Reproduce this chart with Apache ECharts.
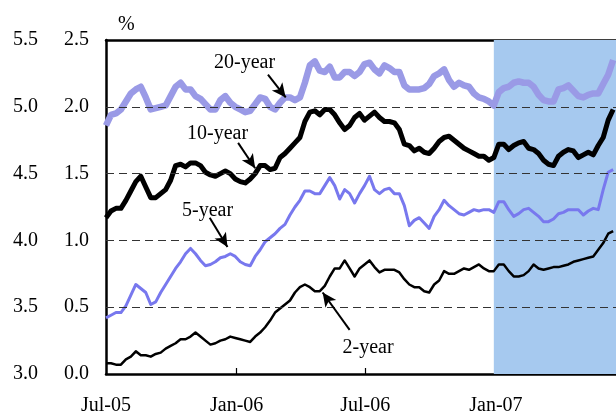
<!DOCTYPE html>
<html>
<head>
<meta charset="utf-8">
<script src="https://cdn.jsdelivr.net/npm/echarts@6/dist/echarts.min.js"></script>
<style>
  html, body { margin: 0; padding: 0; background: #fff; }
  #chart { width: 616px; height: 414px; }
</style>
</head>
<body>
<div id="chart"></div>
<script>
// Weekly observation dates (Fridays)
const weeks = [
  '2005-07-01','2005-07-08','2005-07-15','2005-07-22','2005-07-29',
  '2005-08-05','2005-08-12','2005-08-19','2005-08-26',
  '2005-09-02','2005-09-09','2005-09-16','2005-09-23','2005-09-30',
  '2005-10-07','2005-10-14','2005-10-21','2005-10-28',
  '2005-11-04','2005-11-11','2005-11-18','2005-11-25',
  '2005-12-02','2005-12-09','2005-12-16','2005-12-23','2005-12-30',
  '2006-01-06','2006-01-13','2006-01-20','2006-01-27',
  '2006-02-03','2006-02-10','2006-02-17','2006-02-24',
  '2006-03-03','2006-03-10','2006-03-17','2006-03-24','2006-03-31',
  '2006-04-07','2006-04-14','2006-04-21','2006-04-28',
  '2006-05-05','2006-05-12','2006-05-19','2006-05-26',
  '2006-06-02','2006-06-09','2006-06-16','2006-06-23','2006-06-30',
  '2006-07-07','2006-07-14','2006-07-21','2006-07-28',
  '2006-08-04','2006-08-11','2006-08-18','2006-08-25',
  '2006-09-01','2006-09-08','2006-09-15','2006-09-22','2006-09-29',
  '2006-10-06','2006-10-13','2006-10-20','2006-10-27',
  '2006-11-03','2006-11-10','2006-11-17','2006-11-24',
  '2006-12-01','2006-12-08','2006-12-15','2006-12-22','2006-12-29',
  '2007-01-05','2007-01-12','2007-01-19','2007-01-26',
  '2007-02-02','2007-02-09','2007-02-16','2007-02-23',
  '2007-03-02','2007-03-09','2007-03-16','2007-03-23','2007-03-30',
  '2007-04-06','2007-04-13','2007-04-20','2007-04-27',
  '2007-05-04','2007-05-11','2007-05-18','2007-05-25',
  '2007-06-01','2007-06-08','2007-06-15'
];

// Yields, %
const yield20 = [
  1.86,1.94,1.95,1.98,2.04,2.10,2.13,2.15,2.07,1.98,
  1.99,2.00,2.01,2.08,2.15,2.18,2.13,2.13,2.08,2.06,
  2.02,1.98,1.98,2.05,2.08,2.03,2.00,1.98,1.96,1.97,
  2.02,2.07,2.06,2.00,1.98,2.03,2.07,2.07,2.05,2.07,
  2.18,2.31,2.34,2.27,2.26,2.30,2.22,2.22,2.26,2.26,
  2.23,2.26,2.32,2.33,2.28,2.25,2.31,2.29,2.26,2.26,
  2.16,2.13,2.13,2.13,2.14,2.17,2.23,2.25,2.28,2.20,
  2.15,2.18,2.16,2.15,2.10,2.07,2.06,2.04,2.01,2.11,
  2.14,2.15,2.18,2.19,2.18,2.18,2.15,2.09,2.05,2.04,
  2.04,2.13,2.14,2.16,2.12,2.08,2.07,2.09,2.10,2.10,
  2.17,2.24,2.35
];
const yield10 = [
  1.17,1.22,1.24,1.24,1.30,1.37,1.44,1.48,1.40,1.32,
  1.32,1.35,1.38,1.45,1.56,1.57,1.55,1.58,1.58,1.56,
  1.51,1.49,1.48,1.50,1.52,1.50,1.46,1.44,1.43,1.46,
  1.50,1.56,1.56,1.53,1.54,1.62,1.65,1.69,1.73,1.77,
  1.89,1.96,1.97,1.94,1.98,1.98,1.94,1.88,1.83,1.86,
  1.92,1.95,1.90,1.93,1.96,1.92,1.89,1.89,1.88,1.83,
  1.72,1.71,1.67,1.69,1.66,1.65,1.69,1.74,1.77,1.78,
  1.75,1.72,1.69,1.67,1.65,1.63,1.63,1.60,1.62,1.72,
  1.72,1.68,1.71,1.73,1.74,1.69,1.68,1.65,1.60,1.57,
  1.56,1.63,1.66,1.68,1.67,1.62,1.64,1.66,1.64,1.71,
  1.77,1.90,1.98
];
const yield5 = [
  0.42,0.44,0.46,0.46,0.51,0.59,0.67,0.64,0.61,0.52,
  0.54,0.61,0.67,0.73,0.79,0.84,0.90,0.94,0.90,0.85,
  0.81,0.82,0.84,0.87,0.88,0.90,0.88,0.84,0.82,0.81,
  0.88,0.93,0.99,1.02,1.05,1.09,1.12,1.19,1.25,1.30,
  1.37,1.37,1.35,1.35,1.41,1.47,1.41,1.31,1.38,1.35,
  1.28,1.35,1.41,1.48,1.38,1.35,1.38,1.39,1.35,1.35,
  1.26,1.11,1.15,1.17,1.13,1.09,1.18,1.23,1.30,1.26,
  1.23,1.20,1.19,1.21,1.23,1.22,1.23,1.23,1.21,1.29,
  1.29,1.23,1.18,1.20,1.23,1.24,1.21,1.18,1.14,1.14,
  1.16,1.20,1.21,1.23,1.23,1.23,1.19,1.22,1.24,1.23,
  1.38,1.51,1.53
];
const yield2 = [
  0.08,0.08,0.07,0.07,0.11,0.13,0.17,0.14,0.14,0.13,
  0.15,0.16,0.19,0.21,0.23,0.26,0.26,0.28,0.31,0.28,
  0.25,0.22,0.23,0.25,0.26,0.28,0.27,0.26,0.25,0.24,
  0.28,0.31,0.35,0.40,0.46,0.49,0.52,0.55,0.61,0.65,
  0.67,0.65,0.62,0.62,0.66,0.73,0.79,0.79,0.85,0.79,
  0.73,0.79,0.82,0.85,0.80,0.76,0.78,0.78,0.78,0.76,
  0.71,0.67,0.65,0.65,0.62,0.61,0.67,0.70,0.77,0.75,
  0.75,0.77,0.79,0.78,0.80,0.82,0.79,0.77,0.77,0.82,
  0.82,0.77,0.73,0.73,0.74,0.77,0.82,0.79,0.78,0.79,
  0.80,0.80,0.81,0.82,0.84,0.85,0.86,0.87,0.88,0.93,
  0.98,1.05,1.07
];

// Axis ticks
const xTickDates  = ['2005-07-01','2006-01-01','2006-07-01','2007-01-01'];
const xTickLabels = ['Jul-05','Jan-06','Jul-06','Jan-07'];
const xStart = '2005-07-01';
const xEnd   = '2007-06-19';
const gridLevels = [0.5, 1.0, 1.5, 2.0];

// Shaded period
const shadeFrom = '2006-12-29';
const shadeTo   = '2007-06-19';

// Series labels with pointer arrows (data coordinates)
const notes = [
  { text: '20-year', at: ['2006-01-12', 2.33], from: ['2006-02-14', 2.24], to: ['2006-03-11', 2.07] },
  { text: '10-year', at: ['2005-12-05', 1.80], from: ['2006-01-03', 1.73], to: ['2006-01-27', 1.54] },
  { text: '5-year',  at: ['2005-11-21', 1.22], from: ['2005-11-24', 1.17], to: ['2005-12-19', 0.95] },
  { text: '2-year',  at: ['2006-07-05', 0.20], from: ['2006-06-09', 0.33], to: ['2006-05-02', 0.61] }
];

// Dates are placed on a day-count axis measured from the first date
const DAY = 86400000;
const dayOf = s => Math.round((Date.parse(s + 'T00:00:00Z') - Date.parse(xStart + 'T00:00:00Z')) / DAY);
const serif = '"Liberation Serif", "Times New Roman", Times, serif';
const pair = vals => weeks.map((d, i) => [dayOf(d), vals[i]]);
const tickDays = xTickDates.map(dayOf);

const chart = echarts.init(document.getElementById('chart'), null, { renderer: 'canvas' });

const lineSeries = (name, vals, color, width, z) => ({
  name, type: 'line', data: pair(vals), showSymbol: false, symbol: 'none',
  lineStyle: { color, width, join: 'round' }, z, silent: true
});

const option = {
  animation: false,
  backgroundColor: '#fff',
  grid: { left: 106, top: 40, right: 0, bottom: 40, containLabel: false, outerBoundsMode: 'none' },
  xAxis: [
    {
      type: 'value', min: 0, max: dayOf(xEnd),
      axisLine: { show: true, lineStyle: { color: '#000', width: 2.5 } },
      axisTick: { show: true, inside: true, length: 6, lineStyle: { color: '#000', width: 1.2 },
                  customValues: tickDays.slice(1) },
      axisLabel: {
        customValues: tickDays,
        formatter: v => xTickLabels[tickDays.indexOf(Math.round(v))] || '',
        margin: 22, color: '#000', fontFamily: serif, fontSize: 20
      },
      splitLine: { show: false }
    },
    {
      type: 'value', position: 'top', min: 0, max: dayOf(xEnd),
      axisLine: { show: true, lineStyle: { color: '#000', width: 2.5 } },
      axisTick: { show: false }, axisLabel: { show: false }, splitLine: { show: false }
    }
  ],
  yAxis: [
    {
      type: 'value', min: 0, max: 2.5, interval: 0.5, position: 'left',
      name: '%', nameLocation: 'end', nameGap: 5,
      nameTextStyle: { color: '#000', fontFamily: serif, fontSize: 20, align: 'left', padding: [0, 0, 0, 12] },
      axisLine: { show: true, lineStyle: { color: '#000', width: 2.5 } },
      axisTick: { show: false },
      axisLabel: { formatter: v => v.toFixed(1), margin: 17, color: '#000', fontFamily: serif, fontSize: 20 },
      splitLine: { show: false }
    },
    {
      type: 'value', min: 3, max: 5.5, interval: 0.5, position: 'left', offset: 51,
      axisLine: { show: false }, axisTick: { show: false },
      axisLabel: { formatter: v => v.toFixed(1), margin: 17, color: '#000', fontFamily: serif, fontSize: 20 },
      splitLine: { show: false }
    }
  ],
  series: [
    {
      name: 'shade', type: 'line', data: [], z: 1, silent: true,
      markArea: {
        silent: true,
        itemStyle: { color: '#a6c9ef' },
        data: [[{ xAxis: dayOf(shadeFrom) }, { xAxis: dayOf(shadeTo) }]]
      }
    },
    {
      name: 'grid', type: 'line', data: [], z: 2, silent: true,
      markLine: {
        silent: true, symbol: 'none', label: { show: false },
        lineStyle: { color: '#333', width: 1.2, type: [8, 5] },
        data: gridLevels.map(v => ({ yAxis: v }))
      }
    },
    lineSeries('2-year', yield2, '#000', 2.5, 3),
    lineSeries('5-year', yield5, '#7878ee', 3, 3),
    lineSeries('10-year', yield10, '#000', 5, 3),
    lineSeries('20-year', yield20, '#9a9ae6', 6.5, 3),
    {
      name: 'notes', type: 'line', data: [], z: 5, silent: true,
      markLine: {
        silent: true, symbol: ['none', 'arrow'], symbolSize: [10, 14],
        label: { show: false },
        lineStyle: { color: '#000', width: 2, type: 'solid' },
        data: notes.map(n => [
          { coord: [dayOf(n.from[0]), n.from[1]] },
          { coord: [dayOf(n.to[0]), n.to[1]] }
        ])
      },
      markPoint: {
        silent: true, symbol: 'circle', symbolSize: 0,
        label: { show: true, position: 'inside', color: '#000', fontFamily: serif, fontSize: 20 },
        itemStyle: { color: 'transparent' },
        data: notes.map(n => ({
          coord: [dayOf(n.at[0]), n.at[1]],
          label: { formatter: n.text }
        }))
      }
    }
  ]
};

chart.setOption(option);
</script>
</body>
</html>
